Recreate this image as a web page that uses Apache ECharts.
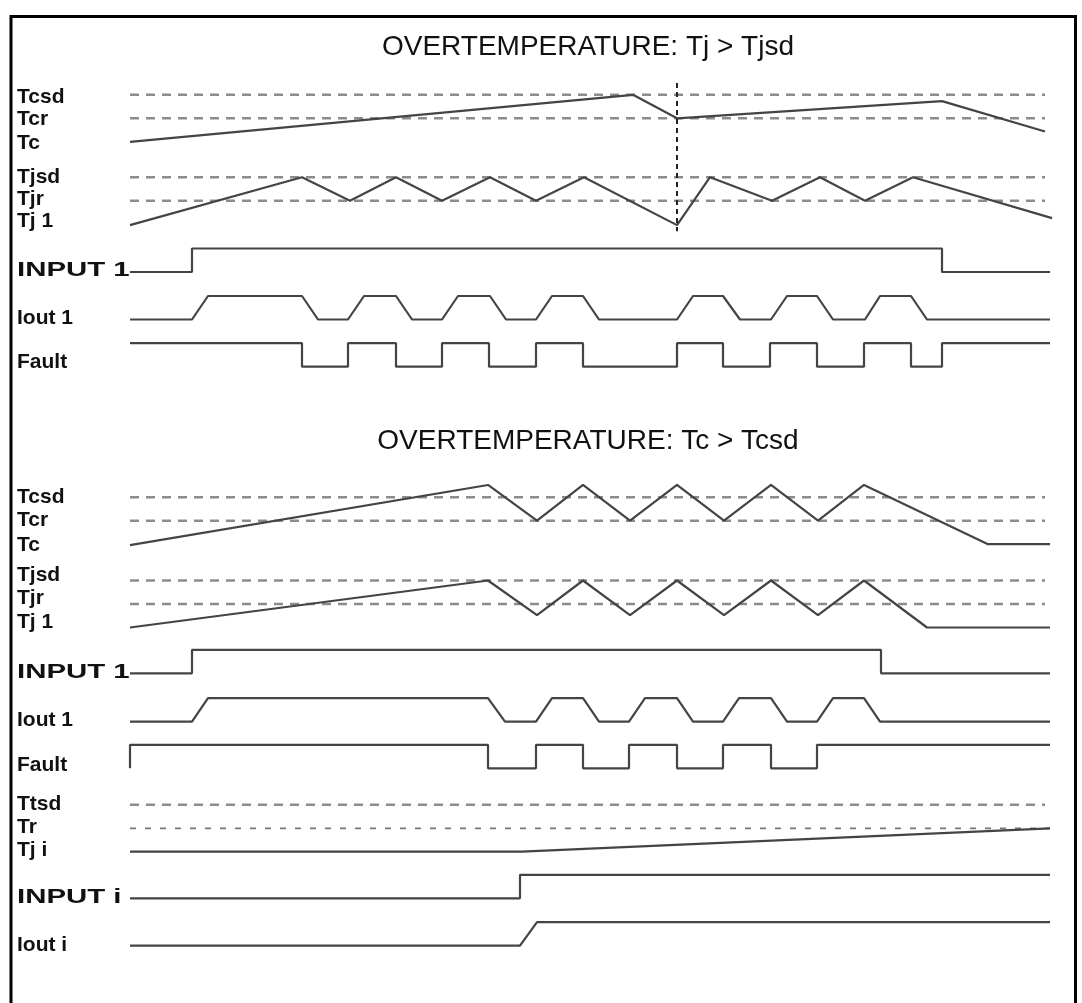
<!DOCTYPE html>
<html><head><meta charset="utf-8">
<script src="https://cdn.jsdelivr.net/npm/echarts@6/dist/echarts.min.js"></script>
<style>html,body{margin:0;padding:0;background:#fff}#c{width:1082px;height:1003px}</style>
</head><body><div id="c"></div>
<script>
// ---- Titles and labels ----
const titles = ['OVERTEMPERATURE: Tj > Tjsd', 'OVERTEMPERATURE: Tc > Tcsd'];
const topLabels = ['Tcsd', 'Tcr', 'Tc', 'Tjsd', 'Tjr', 'Tj 1', 'INPUT 1', 'Iout 1', 'Fault'];
const botLabels = ['Tcsd', 'Tcr', 'Tc', 'Tjsd', 'Tjr', 'Tj 1', 'INPUT 1', 'Iout 1', 'Fault', 'Ttsd', 'Tr', 'Tj i', 'INPUT i', 'Iout i'];

// ---- Top panel: Tj > Tjsd (time units, levels relative to lower threshold = 0, upper = 1) ----
const topTcTime  = [0, 50.3, 54.7, 81.2, 91.5];
const topTcLevel = [-1.0, 1.0, 0, 0.73, -0.56];
const topTjTime  = [0, 17.2, 22.0, 26.6, 31.2, 36.0, 40.6, 45.4, 54.7, 58.0, 64.2, 69.0, 73.5, 78.3, 92.2];
const topTjLevel = [-1.04, 1, 0, 1, 0, 1, 0, 1, -1.04, 1, 0, 1, 0, 1, -0.74];
const topInTime  = [0, 6.2, 81.2, 92.0];
const topInLevel = [0, 1, 0, 0];
const topIoutTime  = [0, 6.2, 7.8, 17.2, 18.8, 21.8, 23.4, 26.6, 28.2, 31.2, 32.8, 36.0, 37.6, 40.6, 42.2, 45.3, 46.9, 54.7, 56.3, 59.3, 61.0, 64.1, 65.7, 68.7, 70.3, 73.5, 75.0, 78.1, 79.7, 92.0];
const topIoutLevel = [0, 0, 1, 1, 0, 0, 1, 1, 0, 0, 1, 1, 0, 0, 1, 1, 0, 0, 1, 1, 0, 0, 1, 1, 0, 0, 1, 1, 0, 0];
const topFaultTime  = [0, 17.2, 21.8, 26.6, 31.2, 35.9, 40.6, 45.3, 54.7, 59.3, 64.0, 68.7, 73.4, 78.1, 81.2, 92.0];
const topFaultLevel = [1, 0, 1, 0, 1, 0, 1, 0, 1, 0, 1, 0, 1, 0, 1, 1];
const topMarkerTime = 54.7;

// ---- Bottom panel: Tc > Tcsd ----
const botTcTime  = [0, 35.8, 40.7, 45.3, 50.0, 54.7, 59.4, 64.1, 68.8, 73.4, 85.8, 92.0];
const botTcLevel = [-1.04, 1.52, 0, 1.52, 0, 1.52, 0, 1.52, 0, 1.52, -1.0, -1.0];
const botTjTime  = [0, 35.8, 40.7, 45.3, 50.0, 54.7, 59.4, 64.1, 68.8, 73.4, 79.7, 92.0];
const botTjLevel = [-1.0, 1, -0.47, 1, -0.47, 1, -0.47, 1, -0.47, 1, -1.0, -1.0];
const botInTime  = [0, 6.2, 75.1, 92.0];
const botInLevel = [0, 1, 0, 0];
const botIoutTime  = [0, 6.2, 7.8, 35.8, 37.5, 40.6, 42.2, 45.3, 46.9, 49.9, 51.5, 54.7, 56.3, 59.3, 60.9, 64.1, 65.7, 68.7, 70.3, 73.4, 75.0, 92.0];
const botIoutLevel = [0, 0, 1, 1, 0, 0, 1, 1, 0, 0, 1, 1, 0, 0, 1, 1, 0, 0, 1, 1, 0, 0];
const botFaultTime  = [0, 0, 35.8, 40.6, 45.3, 49.9, 54.7, 59.3, 64.1, 68.7, 92.0];
const botFaultLevel = [0, 1, 0, 1, 0, 1, 0, 1, 0, 1, 1];
const tiTime  = [0, 39.2, 92.0];
const tiLevel = [-0.99, -0.99, 0];
const inITime  = [0, 39.0, 92.0];
const inILevel = [0, 1, 1];
const ioutITime  = [0, 39.0, 40.7, 92.0];
const ioutILevel = [0, 0, 1, 1];
const thresholdEnd = 91.5;

// ---- Layout (pixel rows of each lane's 0 level) ----
const U = 23.5;
const lane = {
  tTc: 118.3, tTj: 200.7, tIn: 272, tIout: 319.5, tFault: 366.7,
  bTc: 520.7, bTj: 604, bIn: 673.3, bIout: 721.7, bFault: 768.3,
  ti: 828.3, inI: 898.3, ioutI: 945.7
};
const topLabelY = [97, 119, 143, 177, 199, 221, 270, 318, 362];
const botLabelY = [497, 520, 545, 575, 598, 622, 672, 720, 765, 804, 827, 850, 897, 945];

const WAVE = '#444', DASH = '#8c8c8c';
function pts(times, levels, base) { return times.map((t, i) => [t, base - levels[i] * U]); }
function wave(times, levels, base, step) {
  return { type: 'line', data: pts(times, levels, base), step: step || false, symbol: 'none', silent: true,
    clip: false, lineStyle: { color: WAVE, width: 2.2 }, z: 3 };
}
function thr(base, level, opts) {
  opts = opts || {};
  return { type: 'line', data: [[opts.start || 0, base - level * U], [opts.end || thresholdEnd, base - level * U]],
    symbol: 'none', silent: true, clip: false,
    lineStyle: { color: opts.color || DASH, width: opts.width || 2.6, type: opts.dash || [9, 7] }, z: 2 };
}

const series = [
  thr(lane.tTc, 1), thr(lane.tTc, 0), thr(lane.tTj, 1), thr(lane.tTj, 0),
  thr(lane.bTc, 1), thr(lane.bTc, 0), thr(lane.bTj, 1), thr(lane.bTj, 0),
  thr(lane.ti, 1),
  thr(lane.ti, 0, { end: 92.0, color: '#777', width: 1.8, dash: [6, 9] }),
  wave(topTcTime, topTcLevel, lane.tTc),
  wave(topTjTime, topTjLevel, lane.tTj),
  wave(topInTime, topInLevel, lane.tIn, 'end'),
  wave(topIoutTime, topIoutLevel, lane.tIout),
  wave(topFaultTime, topFaultLevel, lane.tFault, 'end'),
  wave(botTcTime, botTcLevel, lane.bTc),
  wave(botTjTime, botTjLevel, lane.bTj),
  wave(botInTime, botInLevel, lane.bIn, 'end'),
  wave(botIoutTime, botIoutLevel, lane.bIout),
  wave(botFaultTime, botFaultLevel, lane.bFault, 'end'),
  wave(tiTime, tiLevel, lane.ti),
  wave(inITime, inILevel, lane.inI, 'end'),
  wave(ioutITime, ioutILevel, lane.ioutI),
  // vertical marker: from above Tcsd to below the Tj dip
  { type: 'line', data: [[topMarkerTime, lane.tTc - 1.5 * U], [topMarkerTime, lane.tTj + 1.3 * U]],
    symbol: 'none', silent: true, clip: false,
    lineStyle: { color: '#222', width: 2, type: [5, 4] }, z: 4 }
];

const graphics = [];
const labelFont = 'bold 21px "Liberation Sans", Arial, sans-serif';
function addLabel(s, y) {
  const wide = s.indexOf('INPUT') === 0;
  graphics.push({ type: 'text', x: 17, y: y, scaleX: wide ? 1.4 : 1, originX: 0, originY: 0,
    style: { text: s, font: labelFont, fill: '#111', textVerticalAlign: 'middle' } });
}
topLabels.forEach((s, i) => addLabel(s, topLabelY[i]));
botLabels.forEach((s, i) => addLabel(s, botLabelY[i]));
[47, 441].forEach((y, i) => graphics.push({ type: 'text', x: 588, y: y,
  style: { text: titles[i], font: '28px "Liberation Sans", Arial, sans-serif', fill: '#111', textAlign: 'center', textVerticalAlign: 'middle' } }));
// frame
graphics.push({ type: 'polyline', shape: { points: [[11, 1010], [11, 16.5], [1075.5, 16.5], [1075.5, 1010]] },
  style: { stroke: '#000', lineWidth: 3, fill: null } });

const chart = echarts.init(document.getElementById('c'));
chart.setOption({
  animation: false,
  backgroundColor: '#fff',
  grid: { left: 130, right: 22, top: 0, bottom: 0 },
  xAxis: { type: 'value', min: 0, max: 93, show: false },
  yAxis: { type: 'value', min: 0, max: 1003, inverse: true, show: false },
  series: series,
  graphic: graphics
});
</script></body></html>
